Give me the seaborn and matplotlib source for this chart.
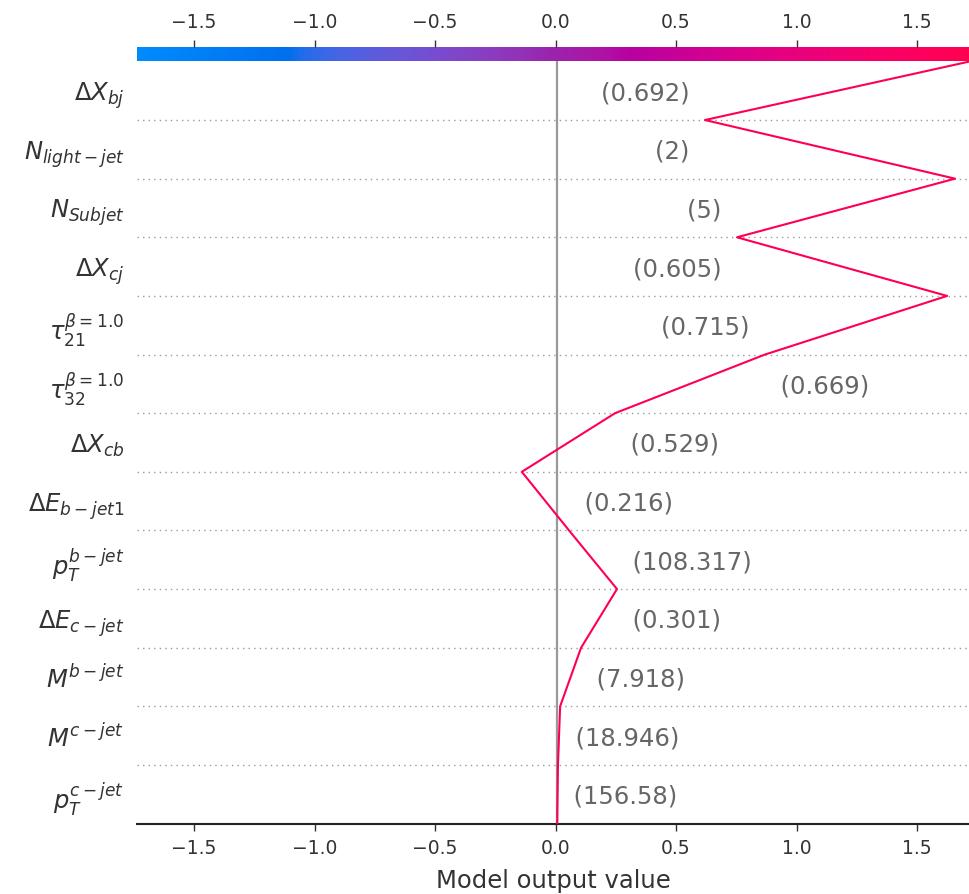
import numpy as np
import pandas as pd
import matplotlib
matplotlib.use("Agg")
import matplotlib.pyplot as plt
from matplotlib.colors import LinearSegmentedColormap, Normalize
import seaborn as sns

# ---------------- data (bottom row first) ----------------
feature_labels = [
    r"$p_T^{c-jet}$", r"$M^{c-jet}$", r"$M^{b-jet}$", r"$\Delta E_{c-jet}$",
    r"$p_T^{b-jet}$", r"$\Delta E_{b-jet1}$", r"$\Delta X_{cb}$",
    r"$\tau_{32}^{\beta=1.0}$", r"$\tau_{21}^{\beta=1.0}$", r"$\Delta X_{cj}$",
    r"$N_{Subjet}$", r"$N_{light-jet}$", r"$\Delta X_{bj}$",
]
feature_values = ["156.58", "18.946", "7.918", "0.301", "108.317", "0.216", "0.529",
                  "0.669", "0.715", "0.605", "5", "2", "0.692"]
base_value = 0.007
# cumulative model output at each row boundary, from bottom (base) to top (prediction)
cumulative = [0.007, 0.010, 0.019, 0.106, 0.255, 0.056, -0.140,
              0.247, 0.869, 1.625, 0.753, 1.658, 0.620, 1.72]
x_limits = [-1.737, 1.72]
x_ticks = [-1.5, -1.0, -0.5, 0.0, 0.5, 1.0, 1.5]

# ---------------- colormap (shap-like red_blue in LCH space) ----------------
def lch2rgb(l, c, h):
    a, b = c * np.cos(h), c * np.sin(h)
    fy = (l + 16) / 116.0
    fx = fy + a / 500.0
    fz = fy - b / 200.0
    def finv(t):
        return t ** 3 if t > 6 / 29 else 3 * (6 / 29) ** 2 * (t - 4 / 29)
    X, Y, Z = 0.95047 * finv(fx), 1.0 * finv(fy), 1.08883 * finv(fz)
    M = np.array([[3.2406, -1.5372, -0.4986],
                  [-0.9689, 1.8758, 0.0415],
                  [0.0557, -0.2040, 1.0570]])
    lin = M @ np.array([X, Y, Z])
    out = np.where(lin > 0.0031308, 1.055 * np.clip(lin, 0, None) ** (1 / 2.4) - 0.055, 12.92 * lin)
    return np.clip(out, 0, 1)

blue_lch = [54.0, 70.0, 4.6588]
red_lch = [54.0, 90.0, 0.35470565 + 2 * np.pi]
l_mid = 40.0
nsteps = 100
l_vals = list(np.linspace(blue_lch[0], l_mid, nsteps // 2)) + list(np.linspace(l_mid, red_lch[0], nsteps // 2))
c_vals = np.linspace(blue_lch[1], red_lch[1], nsteps)
h_vals = np.linspace(blue_lch[2], red_lch[2], nsteps)
colors = [lch2rgb(l, c, h) for l, c, h in zip(l_vals, c_vals, h_vals)]
cmap = LinearSegmentedColormap.from_list("red_blue", colors)
norm = Normalize(vmin=x_limits[0], vmax=x_limits[1])

# ---------------- figure ----------------
sns.set_style("white")
plt.rcParams["font.family"] = ["DejaVu Sans"]
W, H = 970, 894
ax_top, ax_bot = 61.4, 823.6
fig = plt.figure(figsize=(W / 100, H / 100), dpi=100)
ax = fig.add_axes([137 / W, 1 - ax_bot / H, 833 / W, (ax_bot - ax_top) / H])
cax = fig.add_axes([137 / W, 1 - ax_top / H, 833 / W, 14.6 / H])

n = len(feature_labels)
boundaries = np.arange(n + 1)
df = pd.DataFrame({"value": cumulative, "row": boundaries})

# grid lines and base value line
for i in range(1, n):
    ax.plot(x_limits, [i, i], linestyle=(0, (1, 3)), color="#999999", lw=1.0, zorder=1)
ax.axvline(base_value, color="#999999", lw=1.6, zorder=2)

line_color = cmap(norm(cumulative[-1]))
sns.lineplot(data=df, x="value", y="row", sort=False, estimator=None,
             color=line_color, lw=1.5, ax=ax, zorder=3)

ax.set_xlim(x_limits)
ax.set_ylim(0, n)
ax.set_yticks(np.arange(n) + 0.5)
ax.set_yticklabels(feature_labels)
ax.set_xticks(x_ticks)
ax.set_xticklabels([f"{t:.1f}".replace("-", "\u2212") for t in x_ticks])
ax.tick_params(axis="y", length=0, pad=9, labelsize=17.5, labelcolor="#333333")
ax.tick_params(axis="x", length=5, width=1, color="#333333", labelsize=13.5, pad=6,
               labelcolor="#333333", bottom=True, direction="out")
ax.set_xlabel("Model output value", fontsize=17.5, color="#333333", labelpad=8)
ax.set_ylabel("")
for s in ["left", "right", "top"]:
    ax.spines[s].set_visible(False)
ax.spines["bottom"].set_linewidth(1.5)
ax.spines["bottom"].set_color("#222222")

# feature value annotations (shap placement logic)
fig.canvas.draw()
renderer = fig.canvas.get_renderer()
inverter = ax.transData.inverted()
xcenter = (x_limits[0] + x_limits[1]) / 2
for i in range(n):
    v = f"({feature_values[i]})"
    seg = cumulative[i:i + 2]
    t = ax.text(max(seg), i + 0.5, "  " + v, fontsize=17.5, ha="left",
                va="center_baseline", color="#666666", zorder=4)
    bb = inverter.transform_bbox(t.get_window_extent(renderer=renderer))
    if bb.xmax > x_limits[1]:
        t.set_text(v + "  ")
        t.set_x(min(seg))
        t.set_ha("right")
        bb = inverter.transform_bbox(t.get_window_extent(renderer=renderer))
        if bb.xmin < x_limits[0]:
            t.set_text(v)
            t.set_x(xcenter)
            t.set_ha("center")

# colorbar on top
grad = np.linspace(x_limits[0], x_limits[1], 600).reshape(1, -1)
cax.imshow(grad, aspect="auto", cmap=cmap, norm=norm,
           extent=[x_limits[0], x_limits[1], 0, 1], interpolation="bilinear")
cax.set_xlim(x_limits)
cax.set_yticks([])
cax.set_xticks(x_ticks)
cax.set_xticklabels([f"{t:.1f}".replace("-", "\u2212") for t in x_ticks])
cax.xaxis.tick_top()
cax.tick_params(axis="x", length=5, width=1, color="#333333", labelsize=13.5, pad=5.5,
                labelcolor="#333333", top=True, bottom=False, direction="out")
for s in cax.spines.values():
    s.set_visible(False)

fig.savefig("out.png", dpi=100)
